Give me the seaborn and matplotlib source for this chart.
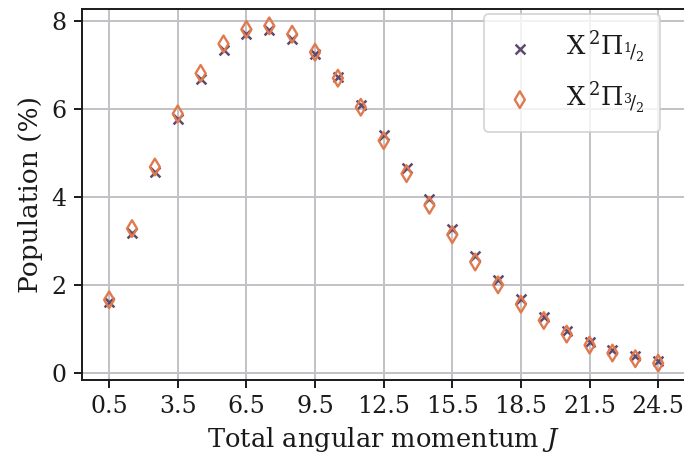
import numpy as np
import pandas as pd
import matplotlib
matplotlib.use("Agg")
import matplotlib.pyplot as plt
import seaborn as sns

# Rotational population of the two spin-orbit ladders
J = [0.5, 1.5, 2.5, 3.5, 4.5, 5.5, 6.5, 7.5, 8.5, 9.5, 10.5, 11.5, 12.5,
     13.5, 14.5, 15.5, 16.5, 17.5, 18.5, 19.5, 20.5, 21.5, 22.5, 23.5, 24.5]
pop_half = [1.62, 3.17, 4.56, 5.78, 6.68, 7.34, 7.70, 7.79, 7.59, 7.25, 6.72,
            6.08, 5.40, 4.66, 3.96, 3.27, 2.65, 2.11, 1.67, 1.28, 0.96, 0.71,
            0.52, 0.39, 0.27]
pop_three_half = [1.66, 3.28, 4.68, 5.89, 6.81, 7.48, 7.81, 7.89, 7.70, 7.29,
                  6.70, 6.04, 5.28, 4.53, 3.81, 3.14, 2.52, 2.00, 1.56, 1.19,
                  0.88, 0.63, 0.45, 0.32, 0.22]
xticks = [0.5, 3.5, 6.5, 9.5, 12.5, 15.5, 18.5, 21.5, 24.5]
yticks = [0, 2, 4, 6, 8]

label_half = r"X$\,^2\Pi_{{}^1\!/_2}$"
label_three_half = r"X$\,^2\Pi_{{}^3\!/_2}$"

sns.set_theme(style="whitegrid")
plt.rcParams["font.family"] = ["DejaVu Serif"]
plt.rcParams["mathtext.fontset"] = "dejavuserif"
plt.rcParams.update({
    "axes.edgecolor": "#1a1a1a",
    "axes.linewidth": 1.4,
    "grid.color": "#c2c2c6",
    "grid.linewidth": 1.4,
    "xtick.bottom": True,
    "ytick.left": True,
    "xtick.major.size": 6,
    "ytick.major.size": 6,
    "xtick.major.width": 1.4,
    "ytick.major.width": 1.4,
    "xtick.color": "#1a1a1a",
    "ytick.color": "#1a1a1a",
    "text.color": "#1a1a1a",
    "axes.labelcolor": "#1a1a1a",
})

df = pd.DataFrame({"J": J, "half": pop_half, "three_half": pop_three_half})

fig = plt.figure(figsize=(6.84, 4.61), dpi=100)
ax = fig.add_axes([0.1194, 0.1757, 0.883, 0.8048])
ax.spines["right"].set_visible(False)

c_half = "#5e4a70"
c_three = "#e07a4e"

sns.scatterplot(data=df, x="J", y="half", marker="x", s=50, color=c_half,
                linewidth=1.8, label=label_half, ax=ax, zorder=3)
sns.scatterplot(data=df, x="J", y="three_half", marker="d", s=72,
                facecolor="none", edgecolor=c_three, linewidth=1.7,
                label=label_three_half, ax=ax, zorder=4)

ax.set_xticks(xticks)
ax.set_xticklabels([f"{t:g}" for t in xticks])
ax.set_yticks(yticks)
ax.tick_params(labelsize=17, pad=5)
ax.set_xlabel(r"Total angular momentum $J$", fontsize=18.5, labelpad=5)
ax.set_ylabel("Population (%)", fontsize=19, labelpad=6)

leg = ax.legend(loc="upper right", fontsize=18.5, handlelength=1.6,
                handletextpad=1.0, labelspacing=0.6, borderpad=0.6,
                frameon=True, framealpha=0.8, edgecolor="#cccccc",
                borderaxespad=0.2, bbox_to_anchor=(0.966, 1.0))
leg.get_frame().set_linewidth(1.3)

fig.savefig("out.png", dpi=100)
